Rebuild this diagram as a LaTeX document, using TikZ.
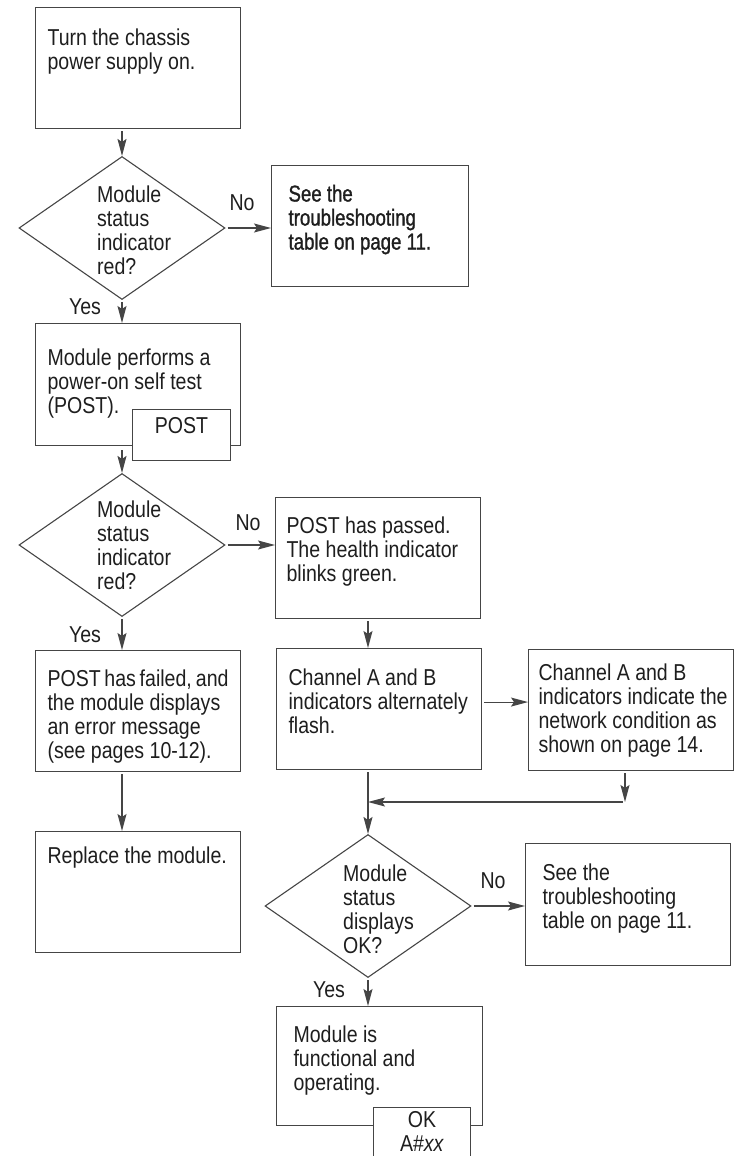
\documentclass[tikz,border=0pt]{standalone}
\usepackage{fontspec}
\setmainfont{Liberation Sans}[FakeStretch=0.85]
\usetikzlibrary{shapes.geometric,arrows.meta}

\definecolor{inkline}{HTML}{454545}
\definecolor{inktext}{HTML}{1E1E1E}
% width, height, first baseline, text
\newcommand{\steptxt}[4]{\parbox[c][#2][t]{#1}{\rule{0pt}{#3}#4}}

\tikzset{
  stepbox/.style={draw=inkline, line width=1.1pt, fill=white, inner xsep=12pt, inner ysep=0pt, anchor=north west, text=inktext},
  decision/.style={draw=inkline, line width=1.1pt, diamond, minimum width=206pt, minimum height=143pt, inner sep=0pt},
  dtext/.style={anchor=north west, inner sep=0pt, align=left, text=inktext},
  tagbox/.style={stepbox, inner xsep=0pt},
  answer/.style={inner sep=0pt, text=inktext},
  arr/.style={draw=inkline, line width=1.1pt, shorten <=2pt, -{Stealth[length=17pt,width=9pt,inset=3pt]}},
}

\begin{document}
\begin{tikzpicture}[x=1pt,y=-1pt,font=\fontsize{23}{24}\selectfont]
\useasboundingbox (0,0) rectangle (745,1156);

% left column
\node[stepbox] (power) at (35,7) {\steptxt{181pt}{121pt}{38pt}{Turn the chassis\\power supply on.}};
\node[decision] (redA) at (122,228) {};
\node[dtext] (redAtxt) at ([xshift=-25pt,yshift=42pt]redA.center) {Module\\status\\indicator\\red?};
\node[stepbox,inner xsep=17pt] (see1) at (271,165) {\steptxt{163pt}{121pt}{36pt}{\addfontfeatures{FakeBold=1.2,FakeStretch=0.81}See the\\troubleshooting\\table on page 11.}};
\node[stepbox] (selftest) at (35,323) {\steptxt{181pt}{122pt}{42pt}{Module performs a\\power-on self test\\(POST).}};
\node[tagbox] (postTag) at (132,409) {\steptxt{98pt}{51pt}{24pt}{\centering POST}};
\node[decision] (redB) at (122,545) {};
\node[dtext] (redBtxt) at ([xshift=-25pt,yshift=44pt]redB.center) {Module\\status\\indicator\\red?};
\node[stepbox] (failed) at (35,650) {\steptxt{181pt}{121pt}{36pt}{POST has failed, and\\the module displays\\an error message\\(see pages 10-12).}};
\node[stepbox] (replace) at (35,831) {\steptxt{181pt}{121pt}{32pt}{Replace the module.}};

% right column
\node[stepbox,inner xsep=11pt] (passed) at (275,497) {\steptxt{183pt}{121pt}{36pt}{POST has passed.\\The health indicator\\blinks green.}};
\node[stepbox] (flash) at (276,648) {\steptxt{181pt}{121pt}{37pt}{Channel A and B\\indicators alternately\\flash.}};
\node[stepbox,inner xsep=10pt] (network) at (528,649) {\steptxt{185pt}{121pt}{31pt}{Channel A and B\\\mbox{indicators indicate the}\\network condition as\\shown on page 14.}};
\node[decision] (okQ) at (368,906) {};
\node[dtext] (okQtxt) at ([xshift=-25pt,yshift=41pt]okQ.center) {Module\\status\\displays\\OK?};
\node[stepbox,inner xsep=17pt] (see2) at (525,843) {\steptxt{171pt}{122pt}{37pt}{See the\\troubleshooting\\table on page 11.}};
\node[stepbox,inner xsep=17pt] (works) at (276,1006) {\steptxt{172pt}{119pt}{36pt}{Module is\\functional and\\operating.}};
\node[tagbox] (okTag) at (373,1107) {\steptxt{97pt}{70pt}{20pt}{\centering OK\\A\#\textit{xx}}};

% connectors
\coordinate (joinR) at (625,802);
\coordinate (joinL) at (368,802);
\draw[arr] (power.south -| redA) -- (redA.north);
\draw[arr] (redA.east) -- (redA.east -| see1.west);
\draw[arr] (redA.south) -- (redA.south |- selftest.north);
\draw[arr] ([yshift=-2pt]selftest.south -| redB) -- (redB.north);
\draw[arr] (redB.east) -- (redB.east -| passed.west);
\draw[arr] (redB.south) -- (redB.south |- failed.north);
\draw[arr] (failed.south -| redB) -- (replace.north -| redB);
\draw[arr] (passed.south -| okQ) -- (flash.north -| okQ);
\draw[arr] ([yshift=7pt]flash.east) -- ([yshift=7pt]flash.east -| network.west);
\draw[arr] (network.south -| joinR) -- (joinR);
\draw[arr] (joinR) -- (joinL);
\draw[arr] (flash.south -| okQ) -- (okQ.north);
\draw[arr] (okQ.east) -- (okQ.east -| see2.west);
\draw[arr] (okQ.south) -- (okQ.south |- works.north);

% answers
\node[answer] (noA) at (242,203) {No};
\node[answer] (yesA) at (85,307) {Yes};
\node[answer] (noB) at (248,523) {No};
\node[answer] (yesB) at (85,635) {Yes};
\node[answer] (noC) at (493,881) {No};
\node[answer] (yesC) at (329,990) {Yes};
\end{tikzpicture}
\end{document}
